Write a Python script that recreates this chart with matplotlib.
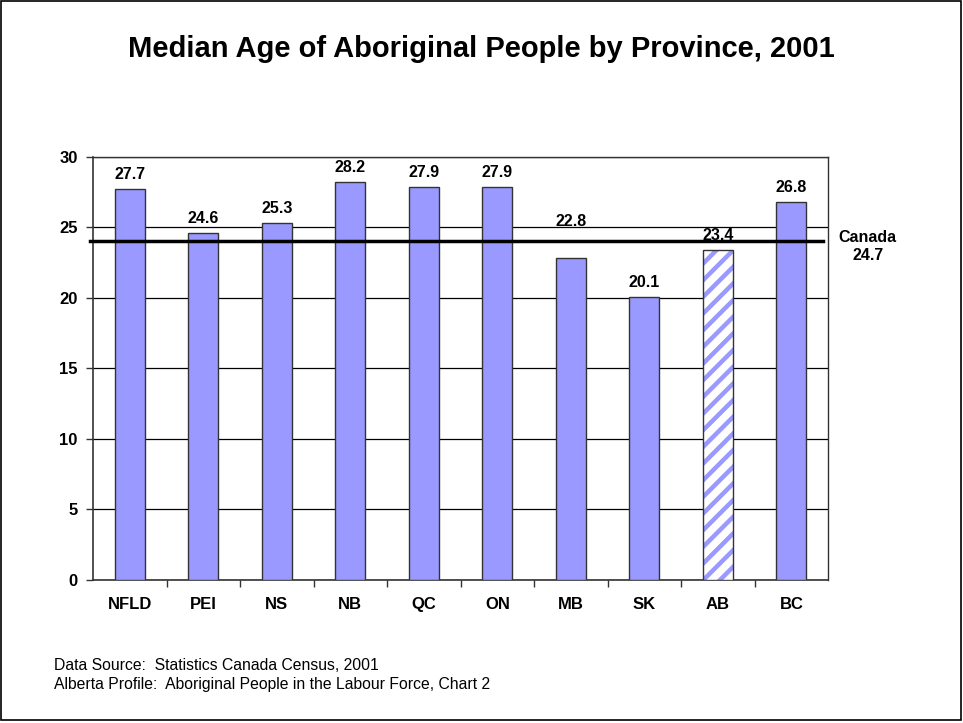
import matplotlib
matplotlib.use("Agg")
import matplotlib.pyplot as plt
from matplotlib.patches import Rectangle

# Chart data

provinces = ['NFLD', 'PEI', 'NS', 'NB', 'QC', 'ON', 'MB', 'SK', 'AB', 'BC']
median_age = [27.7, 24.6, 25.3, 28.2, 27.9, 27.9, 22.8, 20.1, 23.4, 26.8]
canada_line = 24.05
canada_label = 'Canada\n24.7'
yticks = [0, 5, 10, 15, 20, 25, 30]

BAR = '#9999FF'
EDGE = '#333333'

plt.rcParams['font.family'] = ['Liberation Sans', 'DejaVu Sans']
plt.rcParams['hatch.linewidth'] = 3.2

fig = plt.figure(figsize=(9.63, 7.23), dpi=100)
ax = fig.add_axes([0.0966, 0.1978, 0.7634, 0.5851])

x = list(range(len(provinces)))
for i, (prov, val) in enumerate(zip(provinces, median_age)):
    if prov == 'AB':
        # hatched bar: stripes drawn first, outline on top
        ax.bar(i, val, width=0.41, color='white', edgecolor=BAR, hatch='//', linewidth=0, zorder=3)
        ax.bar(i, val, width=0.41, fill=False, edgecolor=EDGE, linewidth=1.0, zorder=4)
    else:
        ax.bar(i, val, width=0.41, color=BAR, edgecolor=EDGE, linewidth=1.0, zorder=3)

    # the MB label sits above the Canada line in the original
    base = val
    if prov == 'MB':
        base = canada_line + 0.35
    ax.annotate(f'{val}', (i, base), xytext=(0, 5), textcoords='offset points',
                ha='center', va='bottom', fontsize=11.5, fontweight='bold', zorder=5)

# Canada reference line
ax.plot([-0.54, 9.43], [canada_line, canada_line], color='black', linewidth=2.5,
        zorder=6, clip_on=False)
ax.text(10.04, canada_line - 0.38, canada_label, ha='center', va='center',
        fontsize=11.5, fontweight='bold', linespacing=1.25)

# Formatting

ax.set_xlim(-0.5, len(provinces) - 0.5)
ax.set_ylim(0, 30)
ax.set_yticks(yticks)
ax.set_yticklabels([str(t) for t in yticks], fontsize=12, fontweight='bold')
ax.set_xticks(x)
ax.set_xticklabels(provinces, fontsize=12, fontweight='bold')
ax.tick_params(axis='x', length=0, pad=12)
ax.set_xticks([i + 0.5 for i in x[:-1]], minor=True)
ax.tick_params(axis='x', which='minor', length=5, width=1, color=EDGE)
ax.tick_params(axis='y', length=5, width=1, color=EDGE, pad=6)
ax.grid(axis='y', color='black', linewidth=0.9, zorder=0)
for side in ['top', 'right']:
    ax.spines[side].set_color(EDGE)
    ax.spines[side].set_linewidth(1.0)
for side in ['left', 'bottom']:
    ax.spines[side].set_color(EDGE)
    ax.spines[side].set_linewidth(1.2)

fig.text(0.5, 1 - 49 / 723, 'Median Age of Aboriginal People by Province, 2001',
         ha='center', va='center', fontsize=21, fontweight='bold')
fig.text(54 / 963, 1 - 665 / 723, 'Data Source:  Statistics Canada Census, 2001',
         ha='left', va='center', fontsize=11.3)
fig.text(54 / 963, 1 - 685 / 723, 'Alberta Profile:  Aboriginal People in the Labour Force, Chart 2',
         ha='left', va='center', fontsize=11.3)

# Outer border
fig.patches.append(Rectangle((0.001, 0.004), 0.997, 0.994, transform=fig.transFigure,
                             fill=False, edgecolor='black', linewidth=1.2))

fig.savefig('out.png', dpi=100)
